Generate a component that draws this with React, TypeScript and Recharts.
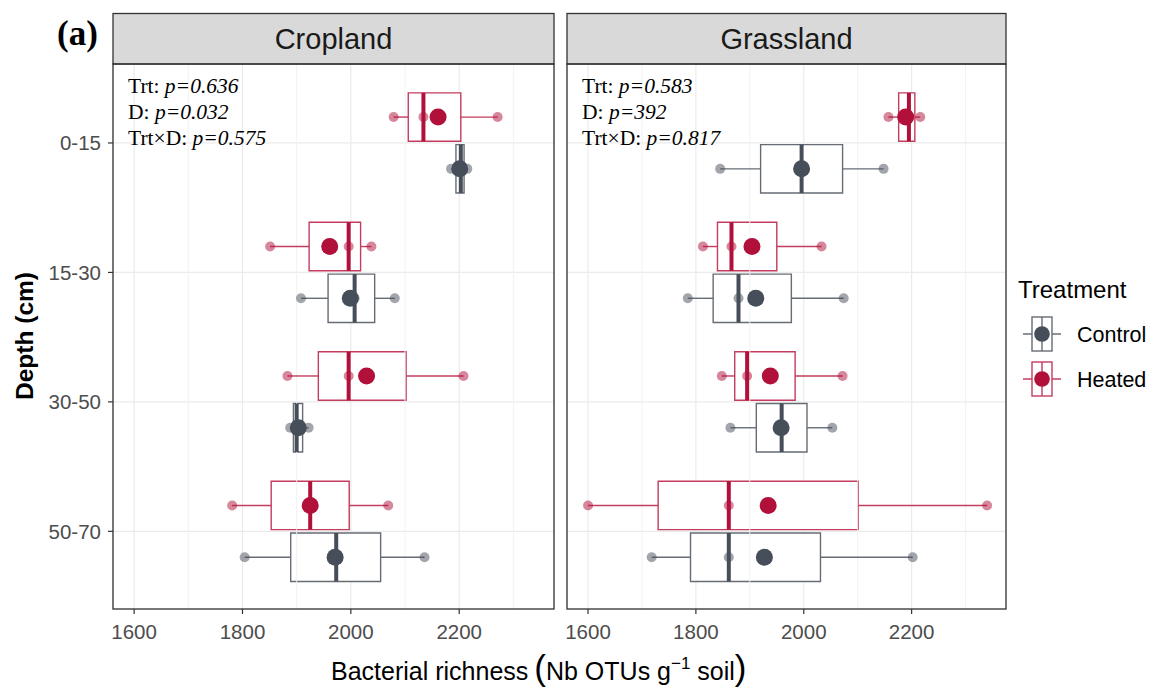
import React from "react";
import {
  ScatterChart,
  Scatter,
  XAxis,
  YAxis,
  CartesianGrid,
  ReferenceArea,
  ReferenceLine,
} from "recharts";

const depths = ["0-15", "15-30", "30-50", "50-70"];
const depthPos = [1, 2, 3, 4];
const xTicks = [1600, 1800, 2000, 2200];
const minorTicks = [1700, 1900, 2100, 2300];
const xDomain = [1561, 2375];

// raw points per depth (3 reps), box quartiles and means
const cropHeatedPts = [[2079, 2134, 2271], [1851, 1996, 2038], [1883, 1996, 2208], [1781, 1925, 2069]];
const cropHeatedQ1 = [2106, 1923, 1940, 1853];
const cropHeatedQ3 = [2203, 2018, 2102, 1997];
const cropHeatedMean = [2161, 1961, 2029, 1925];

const cropControlPts = [[2185, 2203, 2215], [1908, 2007, 2081], [1888, 1900, 1922], [1804, 1973, 2136]];
const cropControlQ1 = [2194, 1958, 1894, 1889];
const cropControlQ3 = [2209, 2044, 1911, 2055];
const cropControlMean = [2201, 1999, 1903, 1971];

const grassHeatedPts = [[2157, 2195, 2216], [1813, 1866, 2033], [1848, 1895, 2072], [1600, 1861, 2340]];
const grassHeatedQ1 = [2176, 1840, 1872, 1730];
const grassHeatedQ3 = [2206, 1950, 1984, 2101];
const grassHeatedMean = [2189, 1904, 1938, 1934];

const grassControlPts = [[1845, 1996, 2148], [1785, 1879, 2074], [1864, 1959, 2053], [1718, 1861, 2202]];
const grassControlQ1 = [1920, 1832, 1912, 1790];
const grassControlQ3 = [2072, 1977, 2006, 2031];
const grassControlMean = [1996, 1911, 1958, 1927];

const cropStats = ["0.636", "0.032", "0.575"];
const grassStats = ["0.583", "392", "0.817"];

const HEAT = "#b0103a";
const HEAT_LINE = "#c43c5e";
const CTRL = "#464e5a";
const CTRL_LINE = "#666c75";

const SANS = "'Liberation Sans', Arial, sans-serif";
const SERIF = "'Liberation Serif', 'Times New Roman', serif";

const DODGE = 0.2;
const HALF = 0.187;

interface Group {
  pts: number[][];
  q1: number[];
  q3: number[];
  mean: number[];
  offset: number;
  color: string;
  line: string;
}

const boxElements = (g: Group, key: string) =>
  g.pts.flatMap((p, i) => {
    const y = depthPos[i] + g.offset;
    const lo = Math.min(...p);
    const hi = Math.max(...p);
    const med = [...p].sort((a, b) => a - b)[1];
    return [
      <ReferenceLine key={`${key}wl${i}`} segment={[{ x: lo, y }, { x: g.q1[i], y }]} stroke={g.line} strokeWidth={1.4} />,
      <ReferenceLine key={`${key}wr${i}`} segment={[{ x: g.q3[i], y }, { x: hi, y }]} stroke={g.line} strokeWidth={1.4} />,
      <ReferenceArea key={`${key}b${i}`} x1={g.q1[i]} x2={g.q3[i]} y1={y - HALF} y2={y + HALF} fill="#ffffff" fillOpacity={1} stroke={g.line} strokeWidth={1.4} />,
      <ReferenceLine key={`${key}m${i}`} segment={[{ x: med, y: y - HALF }, { x: med, y: y + HALF }]} stroke={g.color} strokeWidth={4} />,
    ];
  });

const rawData = (g: Group) =>
  g.pts.flatMap((p, i) => p.map((v) => ({ x: v, y: depthPos[i] + g.offset })));

const meanData = (g: Group) => g.mean.map((v, i) => ({ x: v, y: depthPos[i] + g.offset }));

const Panel: React.FC<{ heated: Group; control: Group; showY: boolean; width: number; margin: any }> = ({
  heated,
  control,
  showY,
  width,
  margin,
}) => (
  <ScatterChart width={width} height={697} margin={margin}>
    <CartesianGrid stroke="#ebebeb" strokeWidth={1.2} />
    {minorTicks.map((t) => (
      <ReferenceLine key={`mn${t}`} x={t} stroke="#f0f0f0" strokeWidth={0.9} />
    ))}
    <XAxis
      type="number"
      dataKey="x"
      domain={xDomain}
      allowDataOverflow
      ticks={xTicks}
      axisLine={false}
      tickLine={{ stroke: "#333333", strokeWidth: 1.2 }}
      tickSize={5}
      tickMargin={10}
      height={40}
      tick={{ fill: "#4d4d4d", fontSize: 20.5, fontFamily: SANS }}
    />
    <YAxis
      type="number"
      dataKey="y"
      domain={[0.39, 4.6]}
      allowDataOverflow
      reversed
      ticks={depthPos}
      tickFormatter={(v: number) => depths[v - 1]}
      hide={!showY}
      axisLine={false}
      tickLine={{ stroke: "#333333", strokeWidth: 1.2 }}
      tickSize={5}
      tickMargin={7}
      width={113}
      tick={{ fill: "#4d4d4d", fontSize: 20.5, fontFamily: SANS }}
    />
    {boxElements(heated, "h")}
    {boxElements(control, "c")}
    <Scatter
      data={rawData(heated)}
      isAnimationActive={false}
      shape={(p: any) => <circle cx={p.cx} cy={p.cy} r={5} fill={HEAT} fillOpacity={0.5} />}
    />
    <Scatter
      data={rawData(control)}
      isAnimationActive={false}
      shape={(p: any) => <circle cx={p.cx} cy={p.cy} r={5} fill={CTRL} fillOpacity={0.5} />}
    />
    <Scatter
      data={meanData(heated)}
      isAnimationActive={false}
      shape={(p: any) => <circle cx={p.cx} cy={p.cy} r={8.5} fill={HEAT} />}
    />
    <Scatter
      data={meanData(control)}
      isAnimationActive={false}
      shape={(p: any) => <circle cx={p.cx} cy={p.cy} r={8.5} fill={CTRL} />}
    />
  </ScatterChart>
);

const Stats: React.FC<{ x: number; vals: string[] }> = ({ x, vals }) => {
  const labels = ["Trt: ", "D: ", "Trt\u00d7D: "];
  return (
    <g fontFamily={SERIF} fontSize={21.5} fill="#000">
      {labels.map((l, i) => (
        <text key={l} x={x} y={93 + i * 26.2}>
          {l}
          <tspan fontStyle="italic">p={vals[i]}</tspan>
        </text>
      ))}
    </g>
  );
};

const LegendKey: React.FC<{ cy: number; color: string; line: string; label: string }> = ({ cy, color, line, label }) => (
  <g>
    <line x1={1023} x2={1061} y1={cy} y2={cy} stroke={line} strokeWidth={1.4} />
    <rect x={1032} y={cy - 17} width={20} height={34} fill="#fff" stroke={line} strokeWidth={1.4} />
    <line x1={1042} x2={1042} y1={cy - 17} y2={cy + 17} stroke={line} strokeWidth={1.4} />
    <circle cx={1042} cy={cy} r={7.8} fill={color} />
    <text x={1077} y={cy + 7.5} fontFamily={SANS} fontSize={21.5} fill="#000">
      {label}
    </text>
  </g>
);

const App: React.FC = () => {
  const cropH: Group = { pts: cropHeatedPts, q1: cropHeatedQ1, q3: cropHeatedQ3, mean: cropHeatedMean, offset: -DODGE, color: HEAT, line: HEAT_LINE };
  const cropC: Group = { pts: cropControlPts, q1: cropControlQ1, q3: cropControlQ3, mean: cropControlMean, offset: DODGE, color: CTRL, line: CTRL_LINE };
  const grassH: Group = { pts: grassHeatedPts, q1: grassHeatedQ1, q3: grassHeatedQ3, mean: grassHeatedMean, offset: -DODGE, color: HEAT, line: HEAT_LINE };
  const grassC: Group = { pts: grassControlPts, q1: grassControlQ1, q3: grassControlQ3, mean: grassControlMean, offset: DODGE, color: CTRL, line: CTRL_LINE };

  return (
    <div style={{ position: "absolute", left: 0, top: 0, width: 1152, height: 697, background: "#fff", overflow: "hidden" }}>
      <div style={{ position: "absolute", left: 0, top: 0 }}>
        <Panel heated={cropH} control={cropC} showY width={560} margin={{ top: 64, right: 6, left: 0, bottom: 48 }} />
      </div>
      <div style={{ position: "absolute", left: 560, top: 0 }}>
        <Panel heated={grassH} control={grassC} showY={false} width={450} margin={{ top: 64, right: 4, left: 7, bottom: 48 }} />
      </div>
      <svg width={1152} height={697} style={{ position: "absolute", left: 0, top: 0, pointerEvents: "none" }}>
        {/* strips */}
        <rect x={113} y={13.5} width={441} height={50.5} fill="#d9d9d9" stroke="#333" strokeWidth={1.3} />
        <rect x={567} y={13.5} width={439} height={50.5} fill="#d9d9d9" stroke="#333" strokeWidth={1.3} />
        <text x={333.5} y={49} textAnchor="middle" fontFamily={SANS} fontSize={29} fill="#1a1a1a">Cropland</text>
        <text x={786.5} y={49} textAnchor="middle" fontFamily={SANS} fontSize={29} fill="#1a1a1a">Grassland</text>
        {/* panel borders */}
        <rect x={113} y={64} width={441} height={545} fill="none" stroke="#333" strokeWidth={1.3} />
        <rect x={567} y={64} width={439} height={545} fill="none" stroke="#333" strokeWidth={1.3} />
        <text x={57} y={45} fontFamily={SERIF} fontWeight="bold" fontSize={35} fill="#000">(a)</text>
        <Stats x={128} vals={cropStats} />
        <Stats x={582} vals={grassStats} />
        <text
          transform="translate(33,336) rotate(-90)"
          textAnchor="middle"
          fontFamily={SANS}
          fontWeight="bold"
          fontSize={24.5}
          fill="#000"
        >
          Depth (cm)
        </text>
        <text x={331} y={680} fontFamily={SANS} fontSize={25} fill="#000">
          Bacterial richness
          <tspan dx={6} fontSize={35}>(</tspan>
          <tspan>Nb OTUs g</tspan>
          <tspan fontSize={17} dy={-11}>{"\u22121"}</tspan>
          <tspan dy={11}> soil</tspan>
          <tspan fontSize={35}>)</tspan>
        </text>
        {/* legend */}
        <text x={1018} y={298} fontFamily={SANS} fontSize={24} fill="#000">Treatment</text>
        <LegendKey cy={334} color={CTRL} line={CTRL_LINE} label="Control" />
        <LegendKey cy={379} color={HEAT} line={HEAT_LINE} label="Heated" />
      </svg>
    </div>
  );
};

export default App;
